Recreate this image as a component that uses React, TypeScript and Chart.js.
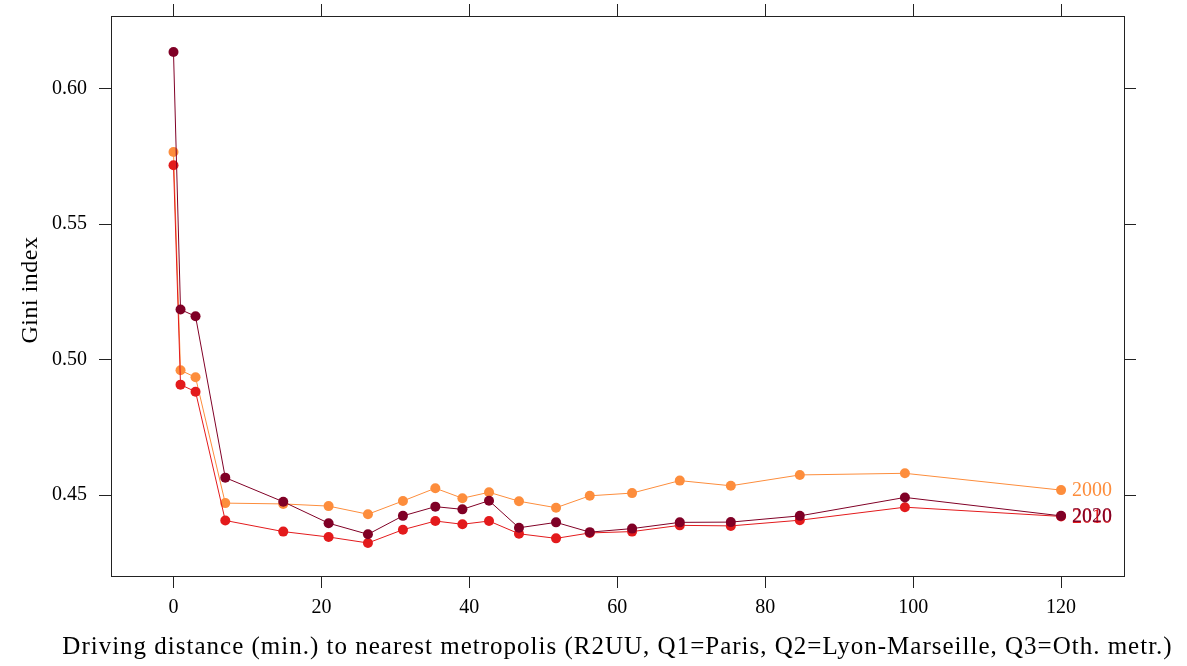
import React, { useEffect, useRef } from "react";
import { Chart, registerables } from "chart.js";

Chart.register(...registerables);

// Median driving time (minutes) of each distance class
const distance = [0, 0.95, 2.98, 7.0, 14.84, 20.97, 26.29, 31.02, 35.4, 39.06, 42.66, 46.71, 51.72, 56.28, 62.0, 68.45, 75.35, 84.68, 98.89, 120];

// Gini index per distance class and year
const gini2000 = [0.5765, 0.496, 0.4934, 0.447, 0.4467, 0.4459, 0.4429, 0.4478, 0.4525, 0.4488, 0.451, 0.4477, 0.4453, 0.4497, 0.4507, 0.4553, 0.4534, 0.4574, 0.458, 0.4518];
const gini2010 = [0.5716, 0.4907, 0.4881, 0.4406, 0.4365, 0.4345, 0.4323, 0.4372, 0.4404, 0.4392, 0.4404, 0.4357, 0.434, 0.436, 0.4365, 0.4388, 0.4386, 0.4407, 0.4455, 0.4421];
const gini2020 = [0.6134, 0.5184, 0.5159, 0.4564, 0.4475, 0.4396, 0.4355, 0.4423, 0.4457, 0.4447, 0.4479, 0.4379, 0.4399, 0.4363, 0.4376, 0.4399, 0.44, 0.4423, 0.4491, 0.4423];

const years = ["2000", "2010", "2020"];
const yearColors = ["#FD8D3C", "#E31A1C", "#800026"];

const xTicks = [0, 20, 40, 60, 80, 100, 120];
const yTicks = [0.45, 0.5, 0.55, 0.6];

const xTitle = "Driving distance (min.) to nearest metropolis (R2UU, Q1=Paris, Q2=Lyon-Marseille, Q3=Oth. metr.)";
const yTitle = "Gini index";

const FONT = "'Liberation Serif', 'DejaVu Serif', serif";
const TICK_LEN = 12;

// Box around the panel, tick marks on all four sides, axis titles and end-of-line year labels
const framePlugin = {
  id: "frame",
  afterDatasetsDraw(chart: any) {
    const { ctx, chartArea: a, scales } = chart;
    const xs = scales.x;
    const ys = scales.y;
    ctx.save();

    // year labels next to the last point of each series
    ctx.font = `20px ${FONT}`;
    ctx.textAlign = "left";
    ctx.textBaseline = "middle";
    chart.data.datasets.forEach((ds: any, i: number) => {
      const last = ds.data[ds.data.length - 1];
      ctx.fillStyle = yearColors[i];
      ctx.fillText(years[i], xs.getPixelForValue(last.x) + 11, ys.getPixelForValue(last.y) + 1);
    });

    // panel frame
    ctx.strokeStyle = "#222";
    ctx.lineWidth = 1;
    ctx.strokeRect(a.left + 0.5, a.top + 0.5, a.right - a.left, a.bottom - a.top);

    // tick marks
    ctx.beginPath();
    xTicks.forEach((v) => {
      const px = Math.round(xs.getPixelForValue(v)) + 0.5;
      ctx.moveTo(px, a.bottom);
      ctx.lineTo(px, a.bottom + TICK_LEN);
      ctx.moveTo(px, a.top);
      ctx.lineTo(px, a.top - TICK_LEN);
    });
    yTicks.forEach((v) => {
      const py = Math.round(ys.getPixelForValue(v)) + 0.5;
      ctx.moveTo(a.left, py);
      ctx.lineTo(a.left - TICK_LEN, py);
      ctx.moveTo(a.right, py);
      ctx.lineTo(a.right + TICK_LEN, py);
    });
    ctx.stroke();

    // axis titles
    ctx.fillStyle = "#000";
    ctx.textAlign = "center";
    ctx.textBaseline = "alphabetic";
    ctx.font = `25px ${FONT}`;
    ctx.letterSpacing = "1px";
    ctx.fillText(xTitle, (a.left + a.right) / 2, a.bottom + 78);

    ctx.font = `24px ${FONT}`;
    ctx.letterSpacing = "0.5px";
    ctx.save();
    ctx.translate(a.left - 74.5, (a.top + a.bottom) / 2 - 6);
    ctx.rotate(-Math.PI / 2);
    ctx.fillText(yTitle, 0, 0);
    ctx.restore();

    ctx.restore();
  },
};

export default function App() {
  const canvasRef = useRef<HTMLCanvasElement | null>(null);

  useEffect(() => {
    const canvas = canvasRef.current;
    if (!canvas) return;

    const series = [gini2000, gini2010, gini2020];
    const chart = new Chart(canvas, {
      type: "scatter",
      data: {
        datasets: series.map((vals, i) => ({
          label: years[i],
          data: distance.map((d, k) => ({ x: d, y: vals[k] })),
          showLine: true,
          borderColor: yearColors[i],
          backgroundColor: yearColors[i],
          borderWidth: 1,
          pointRadius: 5,
          pointBorderWidth: 0,
          pointBackgroundColor: yearColors[i],
          order: series.length - i,
        })),
      },
      options: {
        responsive: false,
        animation: false,
        events: [],
        layout: { padding: { left: 0, top: 16, right: 63, bottom: 0 } },
        plugins: {
          legend: { display: false },
          tooltip: { enabled: false },
        },
        scales: {
          x: {
            type: "linear",
            min: -8.45,
            max: 128.51,
            grid: { display: false, drawTicks: true, tickLength: TICK_LEN },
            border: { display: false },
            ticks: {
              color: "#000",
              padding: 8,
              maxRotation: 0,
              autoSkip: false,
              font: { family: FONT, size: 20 },
            },
            afterBuildTicks: (s: any) => {
              s.ticks = xTicks.map((v) => ({ value: v }));
            },
            afterFit: (s: any) => {
              s.height = 90;
              s.paddingLeft = 0;
              s.paddingRight = 0;
            },
          },
          y: {
            type: "linear",
            min: 0.42012,
            max: 0.62667,
            grid: { display: false, drawTicks: true, tickLength: TICK_LEN },
            border: { display: false },
            ticks: {
              color: "#000",
              padding: 12,
              font: { family: FONT, size: 20 },
              callback: (v: any) => Number(v).toFixed(2),
            },
            afterBuildTicks: (s: any) => {
              s.ticks = yTicks.map((v) => ({ value: v }));
            },
            afterFit: (s: any) => {
              s.width = 111;
              s.paddingTop = 0;
              s.paddingBottom = 0;
            },
          },
        },
      },
      plugins: [framePlugin],
    });

    return () => chart.destroy();
  }, []);

  return (
    <div style={{ position: "fixed", left: 0, top: 0, width: 1187, height: 666, background: "#fff" }}>
      <canvas ref={canvasRef} width={1187} height={666} style={{ display: "block" }} />
    </div>
  );
}
